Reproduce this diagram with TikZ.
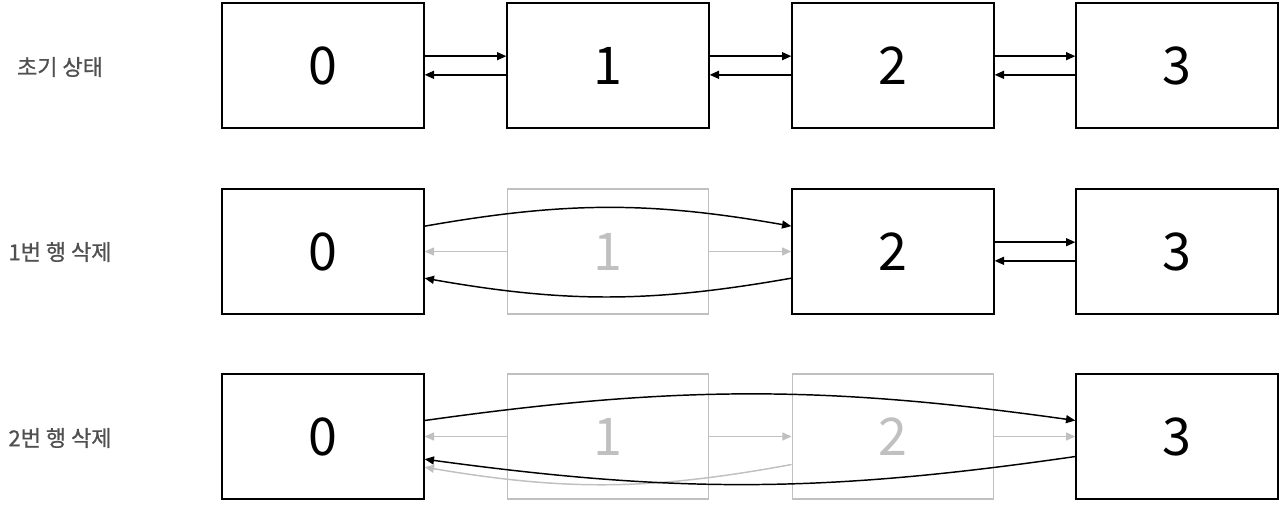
\documentclass[tikz,border=0pt]{standalone}
\usepackage{fontspec}
\setmainfont{Noto Sans CJK KR}
\newfontfamily\lblfont[FakeBold=0.8]{Noto Sans CJK KR}
\usetikzlibrary{arrows.meta}
\definecolor{ListBlack}{RGB}{0,0,0}
\definecolor{ListGray}{RGB}{192,192,192}
\definecolor{ListLabel}{RGB}{80,80,80}
\tikzset{
  lst/box/.style={
    draw=ListBlack,
    line width=1.5pt,
    fill=white,
    minimum width=151pt,
    minimum height=94pt,
    inner sep=0pt,
    font=\fontsize{39}{39}\selectfont
  },
  lst/ghost/.style={
    lst/box,
    draw=ListGray,
    line width=1.1pt,
    text=ListGray
  },
  lst/arrow/.style={-{Triangle[length=7pt,width=6pt]}, line width=1.1pt, draw=ListBlack},
  lst/grayarrow/.style={-{Triangle[length=7pt,width=6pt]}, line width=1.1pt, draw=ListGray},
  lst/label/.style={font=\lblfont\fontsize{16.5}{16.5}\selectfont, text=ListLabel}
}
\begin{document}
\begin{tikzpicture}[x=0.75pt,y=-0.75pt]
  \useasboundingbox (0,0) rectangle (1280,504);
  % row labels
  \node[lst/label] (t1) at (60,67) {초기 상태};
  \node[lst/label] (t2) at (60,252) {1번 행 삭제};
  \node[lst/label] (t3) at (60,438) {2번 행 삭제};

  % initial state
  \node[lst/box] (a0) at (323,65.5) {0};
  \node[lst/box] (a1) at (608,65.5) {1};
  \node[lst/box] (a2) at (893,65.5) {2};
  \node[lst/box] (a3) at (1177,65.5) {3};
  \foreach \i/\j in {a0/a1,a1/a2,a2/a3} {
    \draw[lst/arrow] ([yshift=7pt]\i.east) -- ([yshift=7pt]\j.west);
    \draw[lst/arrow] ([yshift=-7pt]\j.west) -- ([yshift=-7pt]\i.east);
  }

  % delete row 1
  \node[lst/ghost] (b1) at (608,251.5) {1};
  \node[lst/box] (b0) at (323,251.5) {0};
  \node[lst/box] (b2) at (893,251.5) {2};
  \node[lst/box] (b3) at (1177,251.5) {3};
  \draw[lst/grayarrow] (b1.west) -- (b0.east);
  \draw[lst/grayarrow] (b1.east) -- (b2.west);
  \draw[lst/arrow] ([yshift=19pt]b0.east) to[bend left=10] ([yshift=19pt]b2.west);
  \draw[lst/arrow] ([yshift=-20pt]b2.west) to[bend left=10] ([yshift=-20pt]b0.east);
  \draw[lst/arrow] ([yshift=7pt]b2.east) -- ([yshift=7pt]b3.west);
  \draw[lst/arrow] ([yshift=-7pt]b3.west) -- ([yshift=-7pt]b2.east);

  % delete row 2
  \node[lst/ghost] (c1) at (608,436.5) {1};
  \node[lst/ghost] (c2) at (893,436.5) {2};
  \node[lst/box] (c0) at (323,436.5) {0};
  \node[lst/box] (c3) at (1177,436.5) {3};
  \draw[lst/grayarrow] (c1.west) -- (c0.east);
  \draw[lst/grayarrow] (c1.east) -- (c2.west);
  \draw[lst/grayarrow] (c2.east) -- (c3.west);
  \draw[lst/grayarrow] ([yshift=-21pt]c2.west) to[bend left=10] ([yshift=-23pt]c0.east);
  \draw[lst/arrow] ([yshift=12pt]c0.east) to[bend left=8] ([yshift=12pt]c3.west);
  \draw[lst/arrow] ([yshift=-15pt]c3.west) to[bend left=8] ([yshift=-17pt]c0.east);
\end{tikzpicture}
\end{document}
